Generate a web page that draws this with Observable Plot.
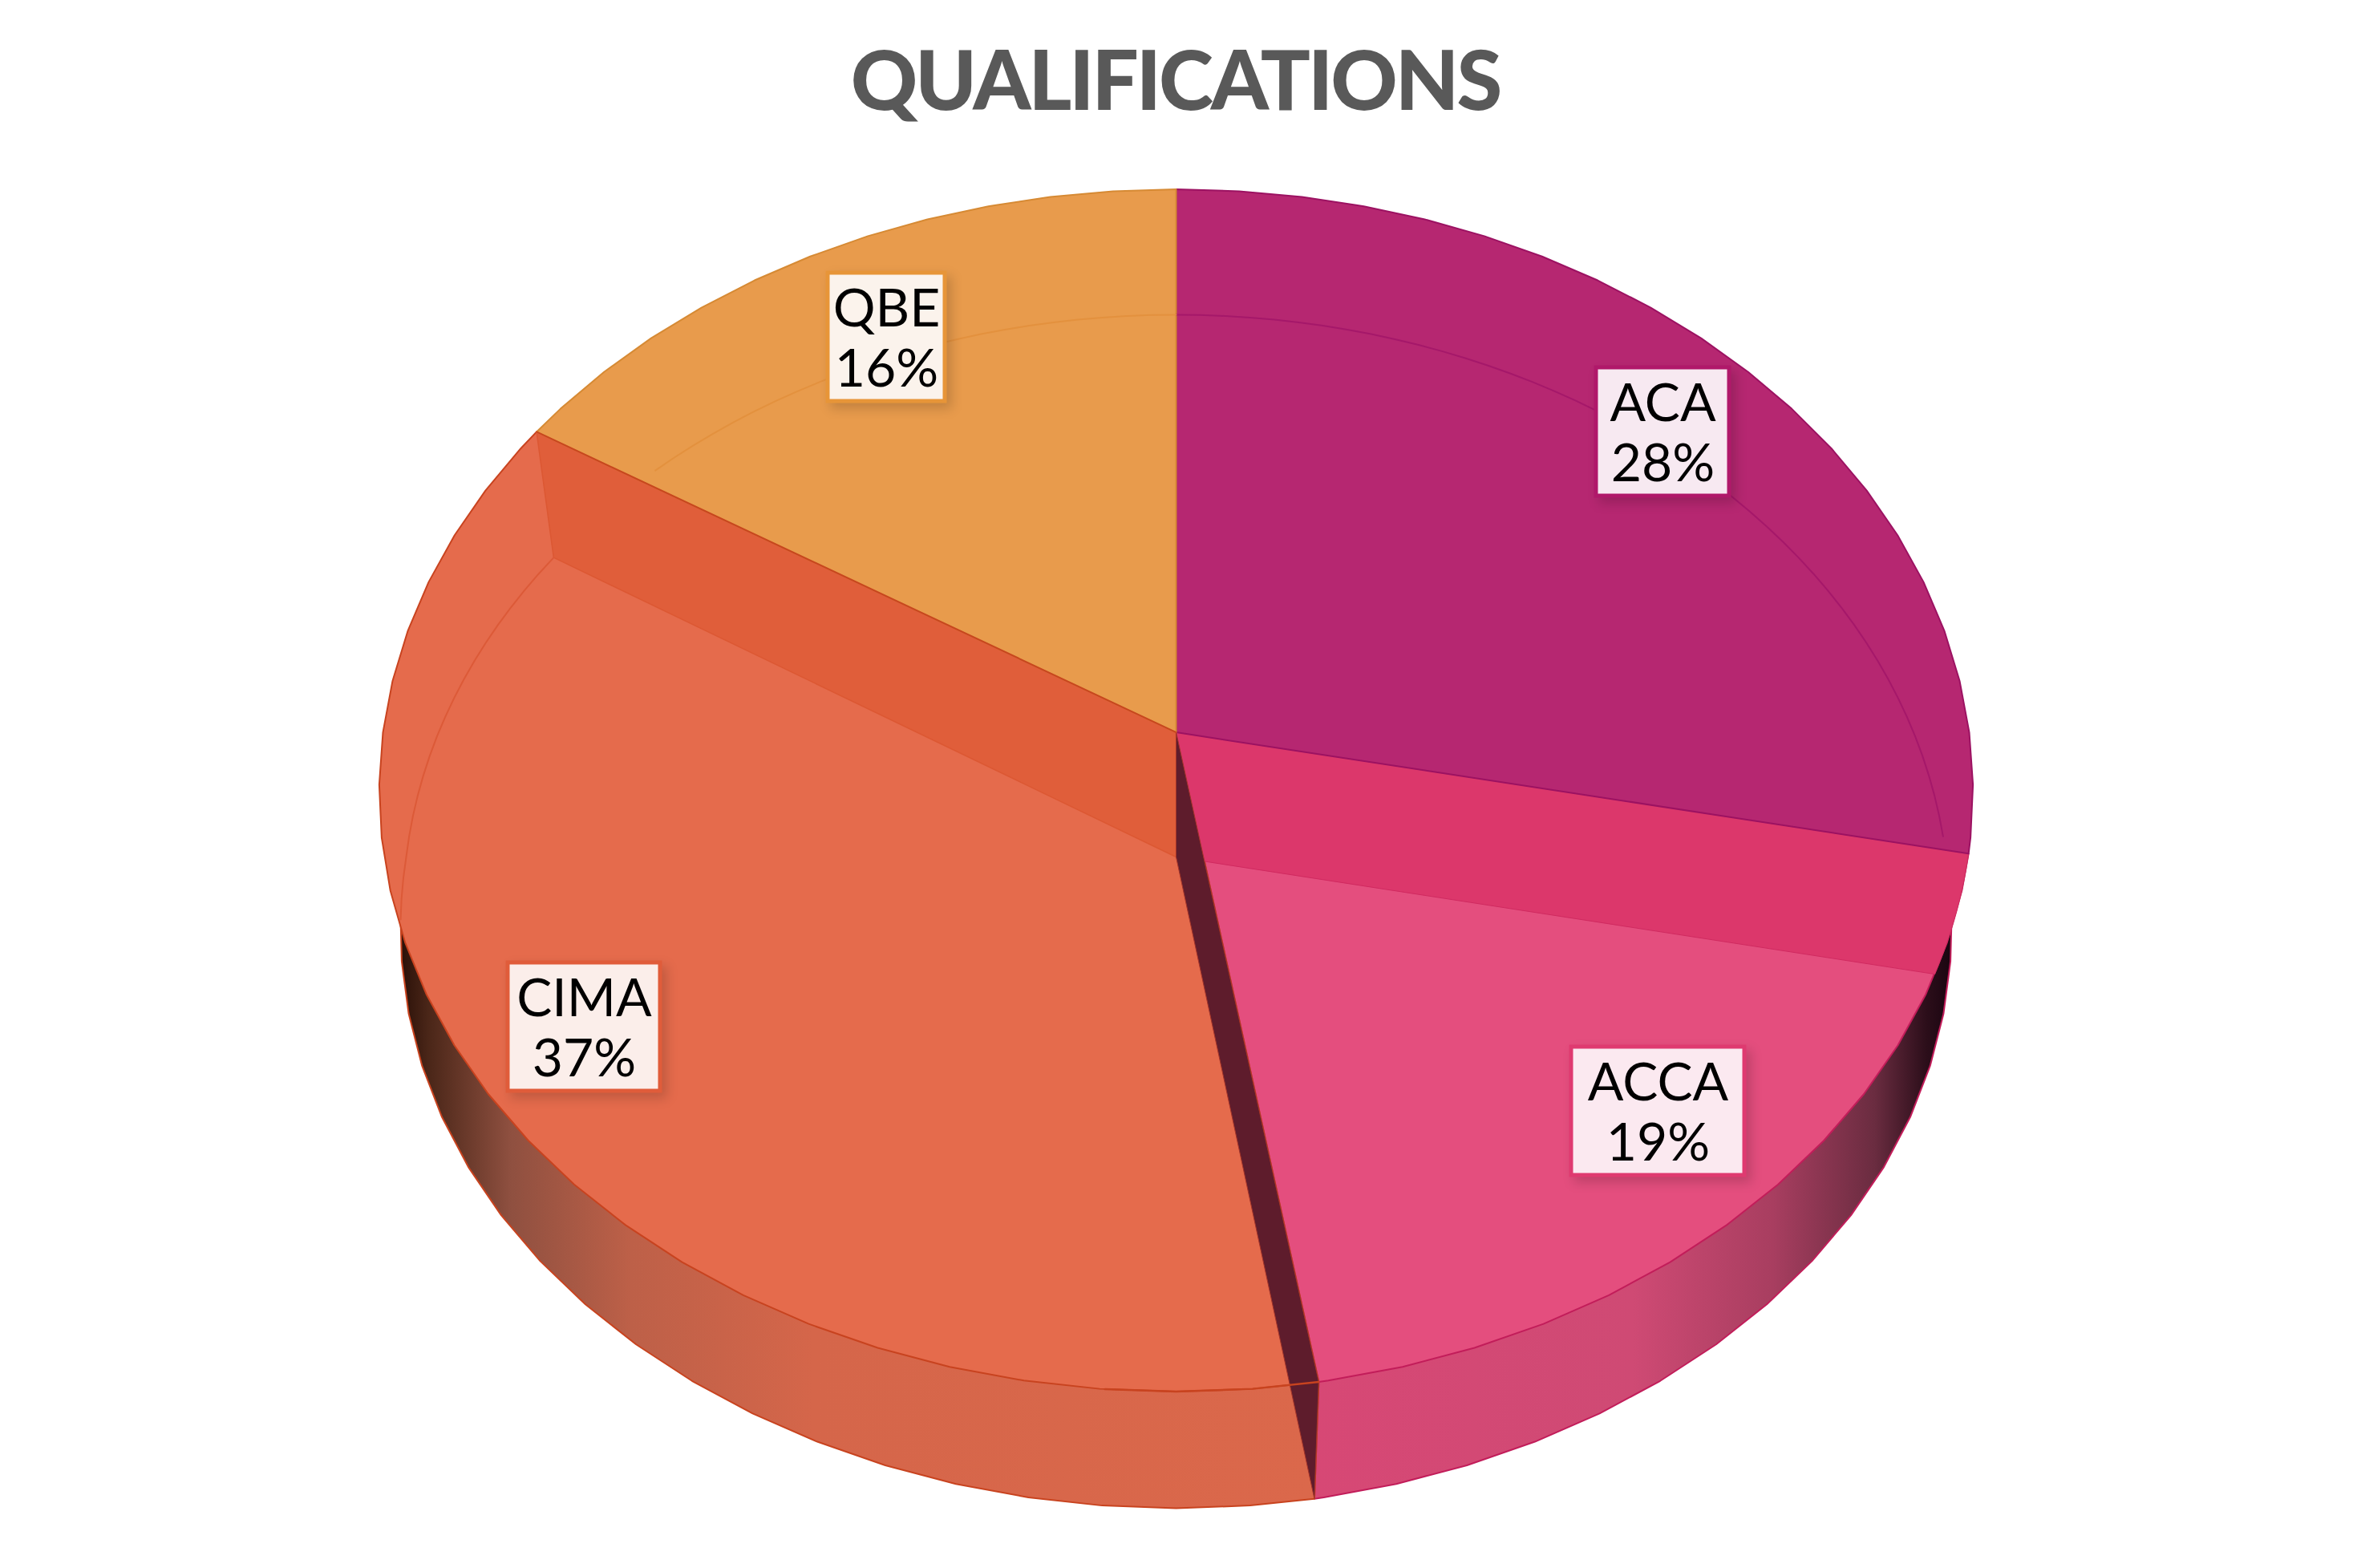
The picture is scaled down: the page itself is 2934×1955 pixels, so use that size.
<!DOCTYPE html>
<html><head><meta charset="utf-8">
<script src="https://cdn.jsdelivr.net/npm/d3@7"></script>
<script src="https://cdn.jsdelivr.net/npm/@observablehq/plot@0.6"></script>
<style>
html,body{margin:0;padding:0;background:#fff;overflow:hidden}
#title{height:170px;line-height:1;text-align:center;font-family:Lato,sans-serif;font-weight:900;color:#595959;font-size:103px;padding-top:46px;box-sizing:border-box;letter-spacing:-3px;padding-right:3px}
svg{display:block}
</style></head><body>
<div id="title">QUALIFICATIONS</div>
<div id="chart"></div>
<script>
// ---- data
const categories = ["ACA", "ACCA", "CIMA", "QBE"];
const shares = [28.2, 19.2, 36.5, 16.1];      // slice sizes
const percentLabels = ["28%", "19%", "37%", "16%"];

// ---- style
const topFill    = ["#b62771", "#e44e7e", "#e56b4c", "#e89b4c"];
const edgeStroke = ["#9c1262", "#c21d5a", "#c8431f", "#d68a34"];
const boxFill    = ["#f7e9f1", "#fbe9f0", "#fbeeea", "#fbf3ec"];
const boxEdge    = ["#b0186a", "#df3a70", "#e05c3a", "#e79538"];
const boxLayout = {
  ACA:  {cx: 2073, cy: 538,  w: 166, h: 160},
  ACCA: {cx: 2067, cy: 1385, w: 216, h: 160},
  CIMA: {cx: 728,  cy: 1280, w: 190, h: 160},
  QBE:  {cx: 1105, cy: 420,  w: 146, h: 160}
};
const W = 2934, H = 1955, TITLE = 170;

// ---- perspective camera for the two rims of the disc
const topRim = {x0: 1466, y0: 912.6, a: 989, b: 742.5, k: 0.0967, bulge: 0};
const lowRim = {x0: 1466, y0: 1068,  a: 960, b: 737.8, k: 0.0914, bulge: 0.03};
const project = (rim, t) => {
  const X = Math.sin(t), Z = Math.cos(t), w = 1 / (1 + rim.k * Z);
  const spread = 1 + rim.bulge * Math.max(0, -Z) * Math.abs(X);
  return {x: rim.x0 + rim.a * X * w * spread, y: rim.y0 - rim.b * Z * w};
};
const centre = rim => ({x: rim.x0, y: rim.y0});
const rad = d => d * Math.PI / 180;
const arc = (rim, t0, t1, stepDeg = 5) => {
  const pts = [], s = rad(stepDeg), dir = t1 > t0 ? 1 : -1;
  pts.push(project(rim, t0));
  let t = (dir > 0 ? Math.floor(t0 / s) + 1 : Math.ceil(t0 / s) - 1) * s;
  while (dir > 0 ? t < t1 : t > t1) { pts.push(project(rim, t)); t += dir * s; }
  pts.push(project(rim, t1));
  return pts;
};

// ---- slice angles from the values
const slices = d3.pie().sort(null).value(d => d)(shares);
const [aca, acca, cima, qbe] = slices;
const th1 = aca.endAngle, th2 = acca.endAngle, th3 = cima.endAngle, TAU = 2 * Math.PI;

const poly = (pts, o) => Plot.line(pts, {x: "x", y: "y", curve: "linear-closed", strokeLinejoin: "round", ...o});
const path = (pts, o) => Plot.line(pts, {x: "x", y: "y", curve: "linear", strokeLinejoin: "round", ...o});
const sector = (t0, t1) => [centre(topRim), ...arc(topRim, t0, t1)];

// below the radial S0 -> S(th1) test for the ACA cut face
const lowEnd = project(lowRim, th1), S0 = centre(lowRim);
const aboveRadial = p => p.y < S0.y + (lowEnd.y - S0.y) * (p.x - S0.x) / (lowEnd.x - S0.x);
const acaFaceArc = arc(topRim, th1, rad(125), 1).filter(aboveRadial);

// faint lower rim seen through the top faces
const inside = (polygon, p) => d3.polygonContains(polygon.map(q => [q.x, q.y]), [p.x, p.y]);
const acaSector = sector(0, th1), qbeSector = sector(th3, TAU);
const fullTop = arc(topRim, 0, TAU, 1);
const faintAca = arc(lowRim, 0, th1, 2).filter(p => inside(acaSector, p));
const faintQbe = arc(lowRim, th3, TAU, 2).filter(p => inside(qbeSector, p));
const faintCima = arc(lowRim, th3, rad(200), 2).filter(p => inside(fullTop, p) && p.x < 900);

// gradient definitions for the shaded outer walls
const gradient = (id, stops) => () => {
  const g = d3.create("svg:defs");
  const lg = g.append("linearGradient").attr("id", id).attr("x1", 0).attr("x2", 1).attr("y1", 0).attr("y2", 0);
  stops.forEach(([o, c]) => lg.append("stop").attr("offset", o).attr("stop-color", c));
  return g.node();
};

const tc = project(topRim, th2), sc = project(lowRim, th2);
const chart = Plot.plot({
  width: W, height: H - TITLE, margin: 0,
  x: {domain: [0, W], range: [0, W], axis: null},
  y: {domain: [TITLE, H], range: [0, H - TITLE], axis: null},
  marks: [
    gradient("wallCima", [[0, "#2a1008"], [0.03, "#4a2618"], [0.12, "#8f5040"], [0.25, "#bd6048"], [0.45, "#d5664a"], [1, "#db684b"]]),
    gradient("wallAcca", [[0, "#d74875"], [0.5, "#cf4a74"], [0.72, "#a83e60"], [0.88, "#6a2c40"], [0.96, "#2c0e1a"], [1, "#1a0510"]]),
    // outer walls
    poly([tc, ...arc(lowRim, th2, rad(96))], {fill: "url(#wallAcca)", stroke: edgeStroke[1], strokeWidth: 2}),
    poly([tc, ...arc(lowRim, th2, rad(264))], {fill: "url(#wallCima)", stroke: edgeStroke[2], strokeWidth: 2}),
    // top faces of the front slices
    poly(sector(th1, th2), {fill: topFill[1], stroke: edgeStroke[1], strokeWidth: 2}),
    poly(sector(th2, th3), {fill: topFill[2], stroke: edgeStroke[2], strokeWidth: 2}),
    // cut faces at the back slices
    poly([centre(topRim), ...acaFaceArc, S0], {fill: "#dc376b", stroke: "#d02a60", strokeWidth: 1}),
    poly([centre(topRim), project(topRim, th3), project(lowRim, th3), S0], {fill: "#e05e3a", stroke: "#dc5833", strokeWidth: 1.5}),
    // cut face between ACCA and CIMA
    poly([centre(topRim), centre(lowRim), sc, tc], {fill: "#5e1c2c", stroke: "#a3342a", strokeWidth: 1}),
    path(arc(topRim, th2, th2 + rad(14)), {stroke: edgeStroke[2], strokeWidth: 2.5}),
    path(faintCima, {stroke: "#dc5a38", strokeWidth: 2}),
    // back top faces
    poly(acaSector, {fill: topFill[0], stroke: edgeStroke[0], strokeWidth: 2}),
    poly(qbeSector, {fill: topFill[3], stroke: edgeStroke[3], strokeWidth: 2}),
    path(faintAca, {stroke: "#a5186a", strokeWidth: 2}),
    path(faintQbe, {stroke: "#e3913e", strokeWidth: 2}),
    path([project(topRim, th3), centre(topRim)], {stroke: "#c8451f", strokeWidth: 2}),
    // labels
    Plot.rect(categories, {
      x1: c => boxLayout[c].cx - boxLayout[c].w / 2, x2: c => boxLayout[c].cx + boxLayout[c].w / 2,
      y1: c => boxLayout[c].cy - boxLayout[c].h / 2, y2: c => boxLayout[c].cy + boxLayout[c].h / 2,
      fill: (c, i) => boxFill[i], stroke: (c, i) => boxEdge[i], strokeWidth: 5,
      imageFilter: "drop-shadow(6px 7px 7px rgba(0,0,0,0.16))"
    }),
    Plot.text(categories, {
      x: c => boxLayout[c].cx, y: c => boxLayout[c].cy,
      text: (c, i) => c + "\n" + percentLabels[i],
      fill: "#000", fontSize: 66, lineHeight: 1.14, fontFamily: "Lato, sans-serif", fontWeight: 400, lineAnchor: "middle"
    })
  ],
  color: {type: "identity"}
});
document.getElementById("chart").append(chart);
</script>
</body></html>
